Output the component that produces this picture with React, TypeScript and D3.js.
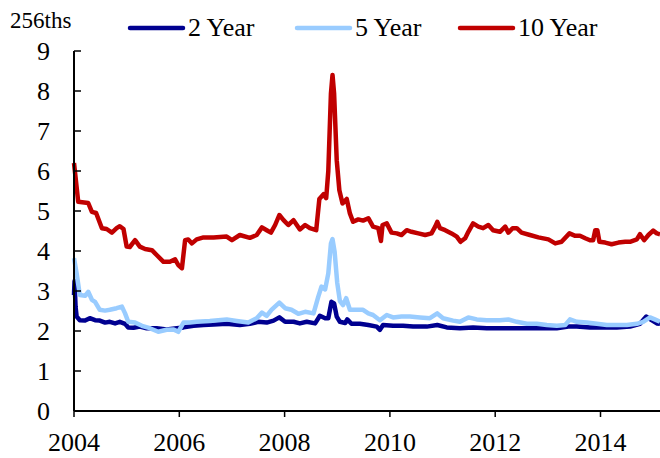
import React from "react";
import * as d3 from "d3";

const yTicks = [0, 1, 2, 3, 4, 5, 6, 7, 8, 9];
const xTicks = [2004, 2006, 2008, 2010, 2012, 2014];
const seriesNames = ["2 Year", "5 Year", "10 Year"];
const seriesColors = ["#000090", "#99CCFF", "#C00000"];

const twoYear: [number, number][] = [
  [2004.0, 2.9], [2004.01, 3.25], [2004.03, 2.6], [2004.05, 2.36], [2004.11, 2.27], [2004.21, 2.26],
  [2004.3, 2.32], [2004.4, 2.27], [2004.49, 2.26], [2004.59, 2.21], [2004.68, 2.23], [2004.78, 2.19],
  [2004.87, 2.23], [2004.97, 2.18], [2005.03, 2.09], [2005.13, 2.08], [2005.25, 2.11], [2005.38, 2.07],
  [2005.57, 2.07], [2005.76, 2.04], [2005.95, 2.07], [2006.08, 2.09], [2006.27, 2.13], [2006.46, 2.15],
  [2006.65, 2.16], [2006.9, 2.18], [2007.15, 2.15], [2007.34, 2.18], [2007.5, 2.23], [2007.66, 2.21],
  [2007.79, 2.26], [2007.9, 2.34], [2008.01, 2.23], [2008.17, 2.23], [2008.29, 2.19], [2008.42, 2.23],
  [2008.58, 2.19], [2008.67, 2.38], [2008.77, 2.32], [2008.83, 2.32], [2008.89, 2.73], [2008.94, 2.69],
  [2008.99, 2.36], [2009.05, 2.23], [2009.15, 2.2], [2009.19, 2.29], [2009.27, 2.18], [2009.43, 2.18],
  [2009.59, 2.15], [2009.75, 2.11], [2009.81, 2.03], [2009.87, 2.15], [2010.06, 2.13], [2010.25, 2.13],
  [2010.44, 2.11], [2010.7, 2.11], [2010.9, 2.15], [2011.08, 2.09], [2011.33, 2.07], [2011.58, 2.09],
  [2011.84, 2.07], [2012.15, 2.07], [2012.66, 2.07], [2013.17, 2.07], [2013.39, 2.11], [2013.55, 2.11],
  [2013.8, 2.09], [2014.31, 2.09], [2014.56, 2.11], [2014.75, 2.18], [2014.87, 2.36], [2014.97, 2.27],
  [2015.07, 2.19], [2015.13, 2.18],
];

const fiveYear: [number, number][] = [
  [2004.0, 3.82], [2004.05, 3.44], [2004.11, 2.9], [2004.21, 2.88], [2004.27, 2.98], [2004.34, 2.78],
  [2004.4, 2.73], [2004.49, 2.53], [2004.59, 2.51], [2004.68, 2.53], [2004.81, 2.57], [2004.91, 2.61],
  [2004.97, 2.44], [2005.03, 2.23], [2005.16, 2.21], [2005.29, 2.13], [2005.44, 2.07], [2005.6, 1.98],
  [2005.76, 2.03], [2005.89, 2.04], [2005.98, 1.98], [2006.08, 2.21], [2006.2, 2.21], [2006.33, 2.23],
  [2006.58, 2.25], [2006.9, 2.29], [2007.09, 2.25], [2007.31, 2.21], [2007.47, 2.32], [2007.57, 2.46],
  [2007.66, 2.38], [2007.75, 2.53], [2007.9, 2.71], [2008.01, 2.57], [2008.13, 2.53], [2008.26, 2.43],
  [2008.39, 2.48], [2008.55, 2.44], [2008.64, 2.86], [2008.7, 3.11], [2008.77, 3.04], [2008.83, 3.44],
  [2008.88, 4.19], [2008.91, 4.3], [2008.95, 3.98], [2009.0, 3.2], [2009.05, 2.75], [2009.11, 2.65],
  [2009.17, 2.82], [2009.24, 2.53], [2009.37, 2.53], [2009.49, 2.53], [2009.59, 2.44], [2009.68, 2.4],
  [2009.81, 2.27], [2009.94, 2.4], [2010.06, 2.34], [2010.22, 2.36], [2010.38, 2.36], [2010.57, 2.34],
  [2010.76, 2.32], [2010.9, 2.44], [2011.01, 2.32], [2011.2, 2.26], [2011.33, 2.23], [2011.49, 2.34],
  [2011.65, 2.29], [2011.84, 2.27], [2012.09, 2.27], [2012.25, 2.29], [2012.41, 2.23], [2012.6, 2.18],
  [2012.79, 2.18], [2012.98, 2.15], [2013.17, 2.13], [2013.33, 2.15], [2013.42, 2.29], [2013.55, 2.23],
  [2013.74, 2.21], [2013.93, 2.18], [2014.12, 2.15], [2014.5, 2.15], [2014.69, 2.18], [2014.81, 2.23],
  [2014.94, 2.34], [2015.03, 2.29], [2015.13, 2.23],
];

const tenYear: [number, number][] = [
  [2004.0, 6.2], [2004.08, 5.23], [2004.27, 5.2], [2004.34, 4.98], [2004.42, 4.95], [2004.53, 4.57],
  [2004.62, 4.55], [2004.72, 4.46], [2004.81, 4.57], [2004.87, 4.62], [2004.94, 4.55], [2005.0, 4.11],
  [2005.06, 4.1], [2005.16, 4.27], [2005.25, 4.11], [2005.35, 4.05], [2005.48, 4.02], [2005.57, 3.9],
  [2005.7, 3.73], [2005.82, 3.73], [2005.92, 3.79], [2005.98, 3.65], [2006.05, 3.57], [2006.11, 4.27],
  [2006.17, 4.29], [2006.24, 4.19], [2006.33, 4.29], [2006.46, 4.34], [2006.65, 4.34], [2006.9, 4.36],
  [2007.0, 4.27], [2007.15, 4.4], [2007.34, 4.33], [2007.47, 4.4], [2007.57, 4.59], [2007.66, 4.52],
  [2007.74, 4.46], [2007.82, 4.65], [2007.9, 4.9], [2007.98, 4.77], [2008.07, 4.65], [2008.17, 4.77],
  [2008.29, 4.54], [2008.39, 4.65], [2008.48, 4.57], [2008.6, 4.52], [2008.66, 5.3], [2008.74, 5.42],
  [2008.79, 5.32], [2008.83, 6.0], [2008.88, 7.94], [2008.91, 8.4], [2008.94, 7.94], [2008.99, 6.27],
  [2009.04, 5.52], [2009.1, 5.19], [2009.18, 5.3], [2009.24, 4.94], [2009.3, 4.73], [2009.4, 4.79],
  [2009.49, 4.76], [2009.59, 4.82], [2009.68, 4.61], [2009.78, 4.57], [2009.83, 4.25], [2009.86, 4.65],
  [2009.94, 4.69], [2010.03, 4.46], [2010.13, 4.44], [2010.22, 4.4], [2010.32, 4.52], [2010.41, 4.48],
  [2010.54, 4.44], [2010.67, 4.4], [2010.79, 4.44], [2010.86, 4.61], [2010.9, 4.73], [2010.95, 4.57],
  [2011.05, 4.52], [2011.17, 4.44], [2011.27, 4.36], [2011.34, 4.23], [2011.43, 4.32], [2011.49, 4.48],
  [2011.58, 4.69], [2011.68, 4.61], [2011.77, 4.57], [2011.87, 4.65], [2011.96, 4.52], [2012.09, 4.48],
  [2012.19, 4.61], [2012.25, 4.46], [2012.33, 4.57], [2012.41, 4.57], [2012.5, 4.46], [2012.66, 4.4],
  [2012.82, 4.34], [2013.01, 4.29], [2013.14, 4.19], [2013.26, 4.23], [2013.41, 4.44], [2013.52, 4.38],
  [2013.61, 4.38], [2013.71, 4.32], [2013.8, 4.27], [2013.86, 4.27], [2013.9, 4.52], [2013.94, 4.52],
  [2013.98, 4.23], [2014.09, 4.21], [2014.21, 4.17], [2014.34, 4.21], [2014.47, 4.23], [2014.56, 4.23],
  [2014.69, 4.29], [2014.75, 4.42], [2014.83, 4.27], [2014.91, 4.4], [2015.0, 4.51], [2015.07, 4.44],
  [2015.13, 4.42],
];

const allSeries = [twoYear, fiveYear, tenYear];

export default function App() {
  const W = 660, H = 458;
  const x = d3.scaleLinear().domain([2004, 2015.13]).range([74, 660]);
  const y = d3.scaleLinear().domain([0, 9]).range([411, 51]);
  const line = d3.line<[number, number]>().x((d) => x(d[0])).y((d) => y(d[1]));
  const font = "'Liberation Serif', 'Times New Roman', serif";
  const legendX = [130, 297, 460];

  return (
    <svg width={W} height={H} style={{ position: "absolute", left: 0, top: 0, background: "#fff" }} fontFamily={font}>
      <rect x={0} y={0} width={W} height={H} fill="#fff" />
      {allSeries.map((s, i) => (
        <path key={i} d={line(s) || ""} fill="none" stroke={seriesColors[i]} strokeWidth={4.5} strokeLinejoin="round" />
      ))}
      {/* axes */}
      <line x1={x(2004)} x2={x(2004)} y1={y(9)} y2={y(0)} stroke="#000" strokeWidth={2} />
      <line x1={x(2004)} x2={660} y1={y(0)} y2={y(0)} stroke="#000" strokeWidth={2} />
      {yTicks.map((t) => (
        <g key={t}>
          <line x1={x(2004)} x2={x(2004) + 7} y1={y(t)} y2={y(t)} stroke="#000" strokeWidth={1.5} />
          <text x={50} y={y(t)} dy="0.35em" textAnchor="end" fontSize={26} fill="#000">{t}</text>
        </g>
      ))}
      {xTicks.map((t) => (
        <g key={t}>
          <line x1={x(t)} x2={x(t)} y1={y(0)} y2={y(0) + 6} stroke="#000" strokeWidth={1.5} />
          <text x={x(t)} y={451} textAnchor="middle" fontSize={26} fill="#000">{t}</text>
        </g>
      ))}
      <text x={10} y={28} fontSize={23} fill="#000">256ths</text>
      {seriesNames.map((n, i) => (
        <g key={n}>
          <line x1={legendX[i]} x2={legendX[i] + 53} y1={28} y2={28} stroke={seriesColors[i]} strokeWidth={4.5} strokeLinecap="round" />
          <text x={legendX[i] + 58} y={36} fontSize={26} fill="#000">{n}</text>
        </g>
      ))}
    </svg>
  );
}
